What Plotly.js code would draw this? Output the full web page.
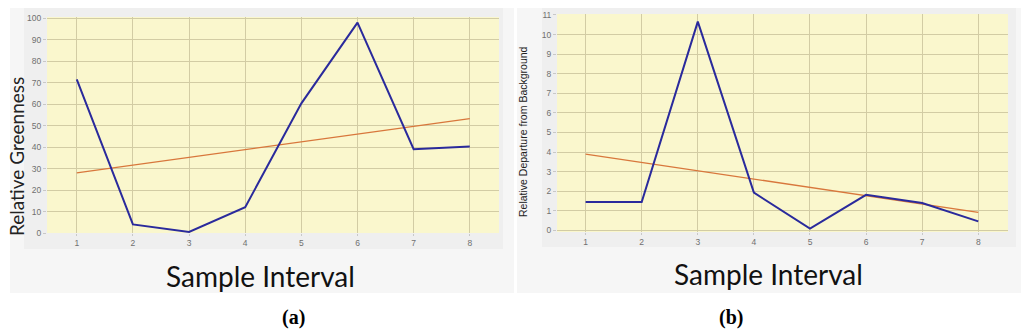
<!DOCTYPE html>
<html>
<head>
<meta charset="utf-8">
<script src="https://cdn.plot.ly/plotly-3.0.1.min.js"></script>
<style>html,body{margin:0;padding:0;background:#fff;}#chart{width:1024px;height:331px;}</style>
</head>
<body>
<div id="chart"></div>
<script>
// ---- data ----
const sampleIntervals = [1, 2, 3, 4, 5, 6, 7, 8];
const greenness = [71.5, 4, 0.5, 12, 60.4, 98, 39, 40.3];
const greennessTrendX = [1, 8];
const greennessTrendY = [28, 53.3];
const departure = [1.45, 1.45, 10.66, 1.93, 0.09, 1.82, 1.4, 0.46];
const departureTrendX = [1, 8];
const departureTrendY = [3.9, 0.92];
const xTickLabels = ['1', '2', '3', '4', '5', '6', '7', '8'];
const greennessTicks = [0, 10, 20, 30, 40, 50, 60, 70, 80, 90, 100];
const departureTicks = [0, 1, 2, 3, 4, 5, 6, 7, 8, 9, 10, 11];
const xTitle = 'Sample Interval';
const yTitleA = 'Relative Greenness';
const yTitleB = 'Relative Departure from Background';
const panelLabels = ['(a)', '(b)'];

// ---- layout helpers (pixel -> paper) ----
const W = 1024, H = 331;
const px = x => x / W;
const py = y => 1 - y / H;

const blue = '#2a2a9c';
const orange = '#d8773c';
const yellow = '#faf7cd';

const traces = [
  {x: greennessTrendX, y: greennessTrendY, xaxis: 'x', yaxis: 'y', mode: 'lines',
   line: {color: orange, width: 1.3}},
  {x: sampleIntervals, y: greenness, xaxis: 'x', yaxis: 'y', mode: 'lines',
   line: {color: blue, width: 2}},
  {x: departureTrendX, y: departureTrendY, xaxis: 'x2', yaxis: 'y2', mode: 'lines',
   line: {color: orange, width: 1.3}},
  {x: sampleIntervals, y: departure, xaxis: 'x2', yaxis: 'y2', mode: 'lines',
   line: {color: blue, width: 2}}
];

const gridColor = '#d2cca4';
const tickFont = {family: 'Arial, Liberation Sans, sans-serif', size: 8.5, color: '#707070'};

function xAxis(domain, range) {
  return {domain: domain, range: range, tickmode: 'array',
    tickvals: sampleIntervals, ticktext: xTickLabels, showgrid: true,
    gridcolor: gridColor, gridwidth: 1, zeroline: false, showline: false,
    ticks: 'outside', ticklen: 2, tickcolor: '#c8c8c8', tickfont: tickFont,
    fixedrange: true};
}
function yAxis(domain, range, ticks) {
  return {domain: domain, range: range, tickmode: 'array', tickvals: ticks,
    ticktext: ticks.map(String), showgrid: true, gridcolor: gridColor, gridwidth: 1,
    zeroline: false, showline: false, ticks: 'outside', ticklen: 3,
    tickcolor: '#c8c8c8', tickfont: tickFont, fixedrange: true};
}

const titleFont = {family: 'Lato, "Open Sans", sans-serif', size: 28, color: '#111'};

const dA = {x: [47, 499], y: [233, 17]};
const dB = {x: [557, 1008], y: [232, 14]};

function rect(x0, x1, y0, y1, color) {
  return {type: 'rect', xref: 'paper', yref: 'paper', x0: px(x0), x1: px(x1), y0: py(y0), y1: py(y1),
    fillcolor: color, line: {width: 0}, layer: 'below'};
}

const layout = {
  width: W, height: H,
  margin: {l: 0, r: 0, t: 0, b: 0},
  paper_bgcolor: '#ffffff',
  plot_bgcolor: yellow,
  showlegend: false,
  xaxis: xAxis([px(dA.x[0]), px(dA.x[1])], [0.47, 8.52]),
  yaxis: yAxis([py(dA.y[0]), py(dA.y[1])], [0, 100.6], greennessTicks),
  xaxis2: Object.assign(xAxis([px(dB.x[0]), px(dB.x[1])], [0.49, 8.53]), {anchor: 'y2'}),
  yaxis2: Object.assign(yAxis([py(dB.y[0]), py(dB.y[1])], [-0.08, 11.05], departureTicks), {anchor: 'x2'}),
  shapes: [
    rect(10, 514, 293, 8, '#f6f6f6'),
    rect(24, 503, 249, 8, '#efefef'),
    rect(517, 1021, 293, 8, '#f6f6f6'),
    rect(542, 1016, 247, 8, '#efefef'),
    rect(dA.x[0], dA.x[1], dA.y[0], dA.y[1], yellow),
    rect(dB.x[0], dB.x[1], dB.y[0], dB.y[1], yellow)
  ],
  annotations: [
    {text: xTitle, xref: 'paper', yref: 'paper', x: px(260), y: py(276), xanchor: 'center', yanchor: 'middle',
     showarrow: false, font: titleFont},
    {text: xTitle, xref: 'paper', yref: 'paper', x: px(768), y: py(274), xanchor: 'center', yanchor: 'middle',
     showarrow: false, font: titleFont},
    {text: yTitleA, xref: 'paper', yref: 'paper', x: px(17), y: py(157), xanchor: 'center', yanchor: 'middle',
     showarrow: false, textangle: -90, font: {family: 'Lato, "Open Sans", sans-serif', size: 19, color: '#222'}},
    {text: yTitleB, xref: 'paper', yref: 'paper', x: px(523), y: py(132), xanchor: 'center', yanchor: 'middle',
     showarrow: false, textangle: -90, font: {family: '"Liberation Sans", Arial, sans-serif', size: 10.5, color: '#222'}},
    {text: '<b>' + panelLabels[0] + '</b>', xref: 'paper', yref: 'paper', x: px(293), y: py(317), xanchor: 'center', yanchor: 'middle',
     showarrow: false, font: {family: '"Liberation Serif", "Times New Roman", serif', size: 20, color: '#000'}},
    {text: '<b>' + panelLabels[1] + '</b>', xref: 'paper', yref: 'paper', x: px(731), y: py(317), xanchor: 'center', yanchor: 'middle',
     showarrow: false, font: {family: '"Liberation Serif", "Times New Roman", serif', size: 20, color: '#000'}}
  ]
};

Plotly.newPlot('chart', traces, layout, {staticPlot: true, displayModeBar: false});
</script>
</body>
</html>
